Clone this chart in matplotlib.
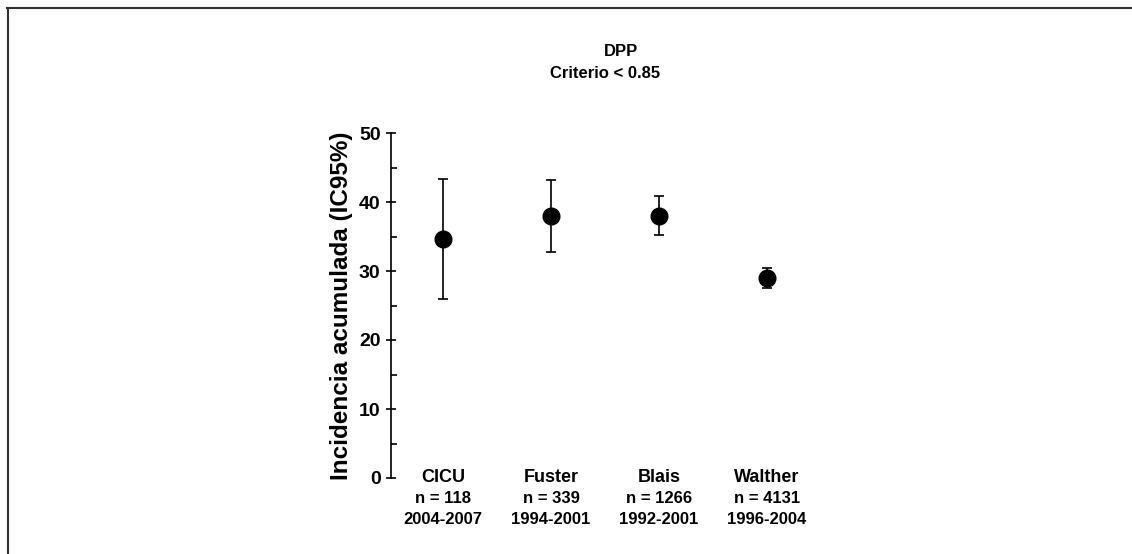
import matplotlib
matplotlib.use("Agg")
import matplotlib.pyplot as plt
from matplotlib.lines import Line2D
from matplotlib.ticker import MultipleLocator

# data
estudios = ["CICU", "Fuster", "Blais", "Walther"]
n_pacientes = ["n = 118", "n = 339", "n = 1266", "n = 4131"]
periodos = ["2004-2007", "1994-2001", "1992-2001", "1996-2004"]
incidencia = [34.6, 37.9, 37.9, 29.0]
ic_inf = [25.9, 32.8, 35.2, 27.6]
ic_sup = [43.3, 43.2, 40.8, 30.5]

narrow = ["Liberation Sans Narrow", "Liberation Sans", "DejaVu Sans"]
wide = ["Liberation Sans", "DejaVu Sans"]

fig = plt.figure(figsize=(11.32, 5.54), dpi=100)
ax = fig.add_axes([391 / 1132, 76 / 554, 439 / 1132, 345 / 554])

x = list(range(len(estudios)))
err_lo = [m - lo for m, lo in zip(incidencia, ic_inf)]
err_hi = [hi - m for m, hi in zip(incidencia, ic_sup)]
ax.errorbar(x, incidencia, yerr=[err_lo, err_hi], fmt='o', color='black',
            markersize=12, ecolor='black', elinewidth=1.2, capsize=3.5,
            capthick=1.2)

ax.set_ylim(0, 50)
ax.set_xlim(-0.4815, 3.583)
ax.yaxis.set_major_locator(MultipleLocator(10))
ax.yaxis.set_minor_locator(MultipleLocator(5))
ax.tick_params(axis='y', which='major', direction='inout', length=7,
               width=1.2, pad=4)
ax.tick_params(axis='y', which='minor', direction='in', length=4, width=1.2)
for lbl in ax.get_yticklabels():
    lbl.set_family(narrow)
    lbl.set_fontweight('bold')
    lbl.set_fontsize(14)
ax.set_xticks([])
for s in ['top', 'right', 'bottom']:
    ax.spines[s].set_visible(False)
ax.spines['left'].set_linewidth(1.2)
ax.patch.set_visible(False)

ax.set_ylabel("Incidencia acumulada (IC95%)", family=wide, fontweight='bold',
              fontsize=17.5, labelpad=4)

# category labels under the points (offsets in points: 21 px and 42 px)
for i in x:
    ax.text(i, 0, estudios[i], ha='center', va='center', fontsize=13,
            fontweight='bold', family=narrow)
    ax.annotate(n_pacientes[i], (i, 0), xytext=(0, -15),
                textcoords='offset points', ha='center', va='center',
                fontsize=12, fontweight='bold', family=narrow)
    ax.annotate(periodos[i], (i, 0), xytext=(0, -30),
                textcoords='offset points', ha='center', va='center',
                fontsize=12, fontweight='bold', family=narrow)

fig.text(621 / 1132, 1 - 51 / 554, "DPP", ha='center', va='center',
         fontsize=12, fontweight='bold', family=narrow)
fig.text(605 / 1132, 1 - 73 / 554, "Criterio < 0.85", ha='center',
         va='center', fontsize=12, fontweight='bold', family=narrow)

# frame lines at top and left
fig.add_artist(Line2D([7 / 1132, 1], [1 - 8 / 554, 1 - 8 / 554],
                      color='#333333', linewidth=1.5))
fig.add_artist(Line2D([8 / 1132, 8 / 1132], [0, 1 - 8 / 554],
                      color='#333333', linewidth=1.5))

fig.savefig("out.png", dpi=100)
